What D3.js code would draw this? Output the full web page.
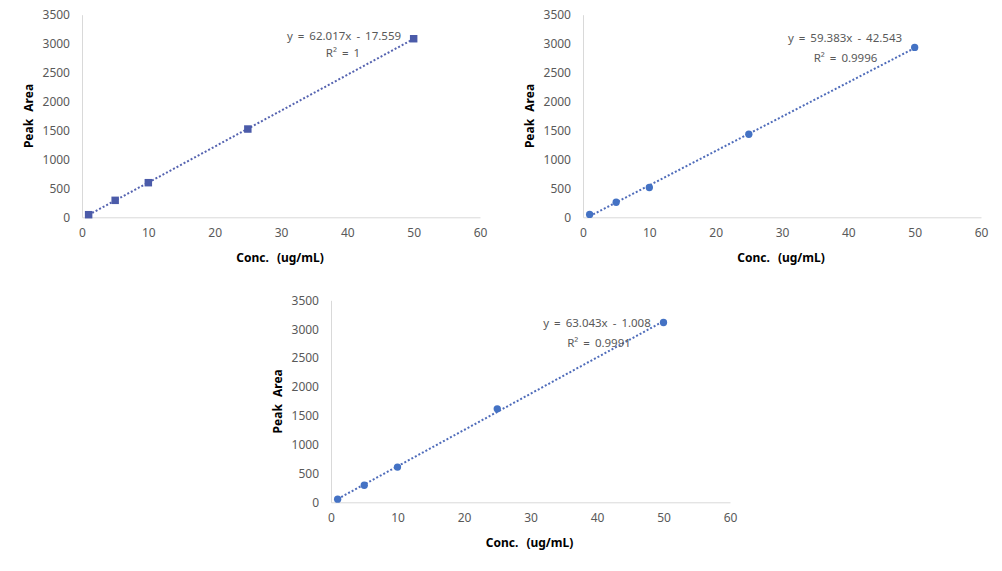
<!DOCTYPE html>
<html>
<head>
<meta charset="utf-8">
<script src="https://cdn.jsdelivr.net/npm/d3@7"></script>
<style>
  html, body { margin: 0; padding: 0; background: #fff; }
  svg { display: block; }
  text { font-family: "Noto Sans", "Open Sans", sans-serif; }
</style>
</head>
<body>
<svg id="chart" width="1002" height="571"></svg>
<script>
// ---- data ----
const concentrations = [1, 5, 10, 25, 50];
const peakArea1 = [45, 293, 598, 1525, 3085];
const peakArea2 = [50, 260, 515, 1435, 2935];
const peakArea3 = [55, 295, 610, 1620, 3115];
const xTicks = [0, 10, 20, 30, 40, 50, 60];
const yTicks = [0, 500, 1000, 1500, 2000, 2500, 3000, 3500];
const equations = ["y = 62.017x - 17.559", "y = 59.383x - 42.543", "y = 63.043x - 1.008"];
const rSquared = ["R² = 1", "R² = 0.9996", "R² = 0.9991"];
const xTitle = "Conc. (ug/mL)";
const yTitle = "Peak Area";

// ---- layout ----
const panels = [
  { values: peakArea1, eq: equations[0], r2: rSquared[0], x0: 82, x1: 480, y0: 217.3, y1: 14.7,
    marker: "square", color: "#4b5ba9", lineColor: "#5563b0", eqPos: [344, 36], r2Pos: [343, 53] },
  { values: peakArea2, eq: equations[1], r2: rSquared[1], x0: 583, x1: 981, y0: 217.3, y1: 14.7,
    marker: "circle", color: "#4472c4", lineColor: "#4f6cba", eqPos: [845, 37.5], r2Pos: [845.5, 58] },
  { values: peakArea3, eq: equations[2], r2: rSquared[2], x0: 331, x1: 730, y0: 502.3, y1: 300.3,
    marker: "circle", color: "#4472c4", lineColor: "#4f6cba", eqPos: [597, 322.5], r2Pos: [599, 342.5] }
];

const svg = d3.select("#chart");

panels.forEach(p => {
  const x = d3.scaleLinear().domain([0, 60]).range([p.x0, p.x1]);
  const y = d3.scaleLinear().domain([0, 3500]).range([p.y0, p.y1]);
  const g = svg.append("g");

  // axes
  const xAxis = g.append("g").attr("transform", `translate(0,${p.y0})`)
    .call(d3.axisBottom(x).tickValues(xTicks).tickSize(0).tickPadding(11).tickFormat(d3.format("d")));
  const yAxis = g.append("g").attr("transform", `translate(${p.x0},0)`)
    .call(d3.axisLeft(y).tickValues(yTicks).tickSize(0).tickPadding(12).tickFormat(d3.format("d")));
  [xAxis, yAxis].forEach(a => {
    a.select(".domain").attr("stroke", "#d9d9d9").attr("stroke-width", 1);
    a.selectAll("text").attr("fill", "#595959").style("font-size", "12px")
      .style("font-family", "'Noto Sans', sans-serif");
  });

  // axis titles
  g.append("text")
    .attr("x", (p.x0 + p.x1) / 2 - 1)
    .attr("y", p.y0 + 45)
    .attr("text-anchor", "middle")
    .style("font-size", "12px").style("font-weight", "bold").style("word-spacing", "5px")
    .attr("fill", "#000")
    .text(xTitle);
  g.append("text")
    .attr("transform", `translate(${p.x0 - 49},${(p.y0 + p.y1) / 2}) rotate(-90)`)
    .attr("text-anchor", "middle")
    .style("font-size", "12px").style("font-weight", "bold").style("word-spacing", "4px")
    .attr("fill", "#000")
    .text(yTitle);

  // trendline (linear regression through data, over data range)
  const pts = concentrations.map((c, i) => [c, p.values[i]]);
  const mx = d3.mean(pts, d => d[0]), my = d3.mean(pts, d => d[1]);
  const slope = d3.sum(pts, d => (d[0] - mx) * (d[1] - my)) / d3.sum(pts, d => (d[0] - mx) ** 2);
  const icpt = my - slope * mx;
  const xr = d3.extent(concentrations);
  g.append("path")
    .datum(xr.map(v => [v, icpt + slope * v]))
    .attr("d", d3.line().x(d => x(d[0])).y(d => y(d[1])))
    .attr("fill", "none")
    .attr("stroke", p.lineColor)
    .attr("stroke-width", 2)
    .attr("stroke-dasharray", "2,2");

  // markers
  const sym = p.marker === "square" ? d3.symbolSquare : d3.symbolCircle;
  const size = p.marker === "square" ? 56 : 42;
  g.selectAll(".pt").data(pts).enter().append("path")
    .attr("transform", d => `translate(${x(d[0])},${y(d[1])})`)
    .attr("d", d3.symbol().type(sym).size(size))
    .attr("fill", p.color);

  // equation labels
  g.append("text").attr("x", p.eqPos[0]).attr("y", p.eqPos[1]).attr("dy", "0.35em")
    .attr("text-anchor", "middle").attr("fill", "#595959")
    .style("font-size", "11.5px").style("word-spacing", "2px")
    .text(p.eq);
  g.append("text").attr("x", p.r2Pos[0]).attr("y", p.r2Pos[1]).attr("dy", "0.35em")
    .attr("text-anchor", "middle").attr("fill", "#595959")
    .style("font-size", "11.5px").style("word-spacing", "2px")
    .text(p.r2);
});
</script>
</body>
</html>
